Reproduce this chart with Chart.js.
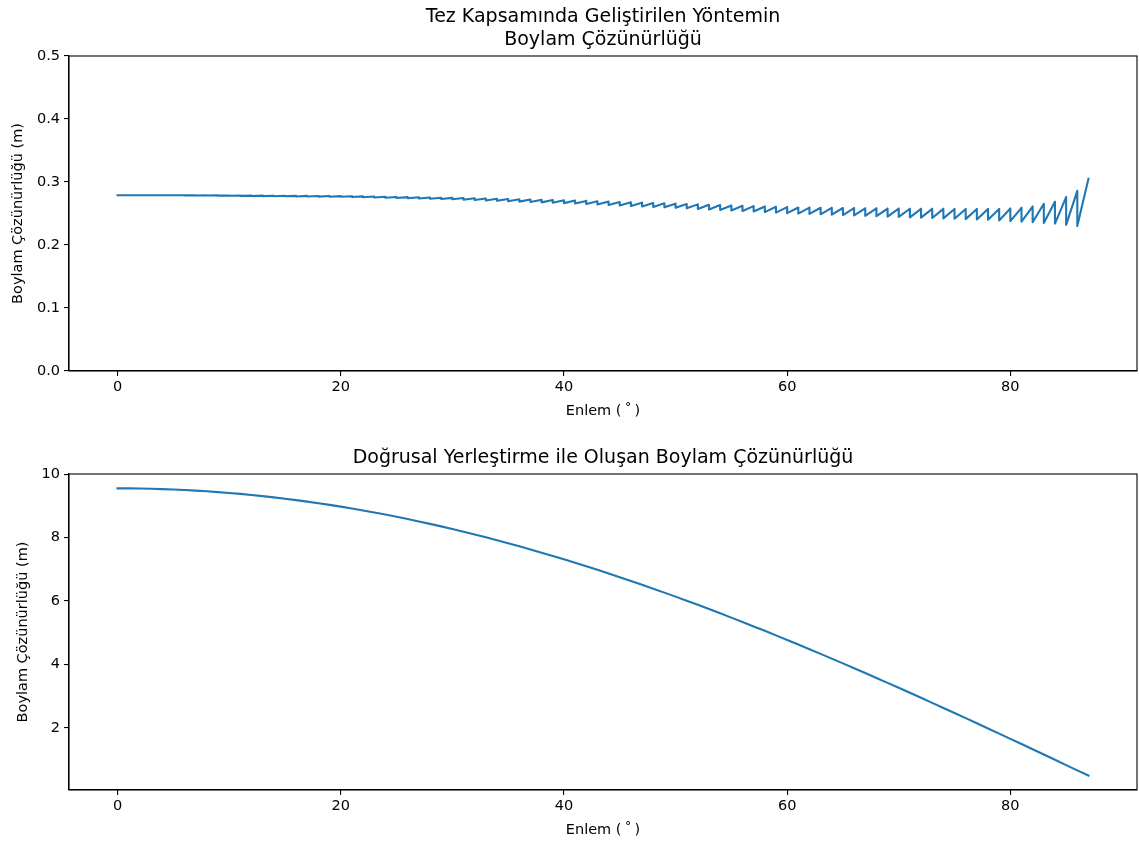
<!DOCTYPE html>
<html>
<head>
<meta charset="utf-8">
<script src="https://cdn.jsdelivr.net/npm/chart.js@4"></script>
<style>
  html, body { margin: 0; padding: 0; background: #fff; }
  #wrap { position: relative; width: 1139px; height: 849px; }
  canvas { position: absolute; left: 0; }
  #top { top: 0; }
  #bottom { top: 424px; }
</style>
</head>
<body>
<div id="wrap">
  <canvas id="top" width="1139" height="424"></canvas>
  <canvas id="bottom" width="1139" height="425"></canvas>
</div>
<script>
// Latitude band starts (degrees); the last entry closes the final band
const bandLat = [0,1,2,3,4,5,6,7,8,9,10,11,12,13,14,15,16,17,18,19,20,21,22,23,24,25,26,27,28,29,
  30,31,32,33,34,35,36,37,38,39,40,41,42,43,44,45,46,47,48,49,50,51,52,53,54,55,56,57,58,59,
  60,61,62,63,64,65,66,67,68,69,70,71,72,73,74,75,76,77,78,79,80,81,82,83,84,85,86,87];

// Proposed method: resolution at the start (low) and end (high) of each 1° band, metres
const bandLow = [
  0.2790,0.2790,0.2790,0.2790,0.2790,0.2790,0.2788,0.2786,0.2785,0.2783,
  0.2781,0.2780,0.2778,0.2776,0.2775,0.2773,0.2771,0.2770,0.2768,0.2766,
  0.2765,0.2761,0.2757,0.2753,0.2749,0.2745,0.2741,0.2737,0.2733,0.2729,
  0.2725,0.2719,0.2713,0.2707,0.2701,0.2695,0.2689,0.2683,0.2677,0.2671,
  0.2665,0.2658,0.2650,0.2643,0.2635,0.2628,0.2620,0.2613,0.2605,0.2598,
  0.2590,0.2582,0.2573,0.2565,0.2556,0.2548,0.2539,0.2531,0.2522,0.2514,
  0.2505,0.2499,0.2493,0.2487,0.2481,0.2475,0.2469,0.2463,0.2457,0.2451,
  0.2445,0.2439,0.2434,0.2428,0.2422,0.2417,0.2411,0.2406,0.2400,0.2390,
  0.2380,0.2370,0.2360,0.2350,0.2340,0.2320,0.2300];
const bandHigh = [
  0.2790,0.2790,0.2790,0.2790,0.2790,0.2790,0.2789,0.2788,0.2787,0.2786,
  0.2785,0.2784,0.2783,0.2782,0.2781,0.2780,0.2779,0.2778,0.2777,0.2776,
  0.2775,0.2772,0.2769,0.2766,0.2763,0.2760,0.2757,0.2754,0.2751,0.2748,
  0.2745,0.2741,0.2737,0.2733,0.2729,0.2725,0.2721,0.2717,0.2713,0.2709,
  0.2705,0.2700,0.2694,0.2689,0.2683,0.2678,0.2672,0.2667,0.2661,0.2656,
  0.2650,0.2645,0.2639,0.2634,0.2628,0.2623,0.2617,0.2612,0.2606,0.2601,
  0.2595,0.2593,0.2591,0.2589,0.2587,0.2585,0.2583,0.2581,0.2579,0.2577,
  0.2575,0.2574,0.2574,0.2573,0.2572,0.2572,0.2571,0.2571,0.2570,0.2580,
  0.2590,0.2610,0.2655,0.2685,0.2760,0.2860,0.3050];

// Linear placement: resolution at each whole degree, metres
const linearLat = bandLat;
const linearRes = [
  9.550,9.549,9.544,9.537,9.527,9.514,9.498,9.479,9.457,9.432,
  9.405,9.375,9.341,9.305,9.266,9.225,9.180,9.133,9.083,9.030,
  8.974,8.916,8.855,8.791,8.724,8.655,8.583,8.509,8.432,8.353,
  8.271,8.186,8.099,8.009,7.917,7.823,7.726,7.627,7.525,7.422,
  7.316,7.207,7.097,6.984,6.870,6.753,6.634,6.513,6.390,6.265,
  6.139,6.010,5.880,5.747,5.613,5.478,5.340,5.201,5.061,4.919,
  4.775,4.630,4.483,4.336,4.186,4.036,3.884,3.731,3.578,3.422,
  3.266,3.109,2.951,2.792,2.632,2.472,2.310,2.148,1.986,1.822,
  1.658,1.494,1.329,1.164,0.998,0.832,0.666,0.500];

const xTicks = [0, 20, 40, 60, 80];
const topYTicks = [0.0, 0.1, 0.2, 0.3, 0.4, 0.5];
const bottomYTicks = [2, 4, 6, 8, 10];

const topTitle = ['Tez Kapsamında Geliştirilen Yöntemin', 'Boylam Çözünürlüğü'];
const bottomTitle = ['Doğrusal Yerleştirme ile Oluşan Boylam Çözünürlüğü'];
const xLabel = 'Enlem (\u2009˚\u2009)';
const yLabel = 'Boylam Çözünürlüğü (m)';

// Sawtooth: each band rises from its low to its high, then drops at the next band
const topPoints = [];
for (let i = 0; i < bandLow.length; i++) {
  topPoints.push({ x: bandLat[i], y: bandLow[i] });
  topPoints.push({ x: bandLat[i + 1], y: bandHigh[i] });
}
const bottomPoints = linearLat.map((x, i) => ({ x, y: linearRes[i] }));

const FONT = "'DejaVu Sans', sans-serif";
Chart.defaults.font.family = FONT;
Chart.defaults.font.size = 14.5;
Chart.defaults.color = '#000';

const LINE = '#1f77b4';

// Full frame around the plot area plus the panel title
const framePlugin = {
  id: 'frame',
  afterDraw(chart, args, opts) {
    const { ctx, chartArea: a } = chart;
    ctx.save();
    ctx.strokeStyle = '#000';
    ctx.lineWidth = 1.1;
    ctx.strokeRect(a.left, a.top, a.right - a.left, a.bottom - a.top);
    ctx.fillStyle = '#000';
    ctx.font = '19px ' + FONT;
    ctx.textAlign = 'center';
    ctx.textBaseline = 'middle';
    const cx = (a.left + a.right) / 2;
    opts.lines.forEach((t, i) => ctx.fillText(t, cx, opts.y + i * opts.gap));
    ctx.restore();
  }
};

function makeChart(id, points, yMin, yMax, yTicks, yFmt, cfg) {
  return new Chart(document.getElementById(id), {
    type: 'line',
    data: {
      datasets: [{
        data: points,
        borderColor: LINE,
        borderWidth: 2.1,
        pointRadius: 0,
        tension: 0,
        fill: false,
        borderJoinStyle: 'round',
        borderCapStyle: 'square'
      }]
    },
    plugins: [framePlugin],
    options: {
      responsive: false,
      animation: false,
      devicePixelRatio: 1,
      layout: { padding: { left: 0, right: 2, top: cfg.padTop, bottom: 0 } },
      plugins: {
        legend: { display: false },
        tooltip: { enabled: false },
        frame: { lines: cfg.title, y: cfg.titleY, gap: 23 }
      },
      scales: {
        x: {
          type: 'linear',
          min: -4.35,
          max: 91.35,
          afterBuildTicks(s) { s.ticks = xTicks.map(v => ({ value: v })); },
          afterFit(s) { s.height = cfg.xHeight; },
          ticks: { padding: 3, maxRotation: 0, callback: v => String(v) },
          grid: { display: true, drawOnChartArea: false, drawTicks: true, tickLength: 5, color: '#000', lineWidth: 1.1 },
          border: { display: true, color: '#000', width: 1.1 },
          title: { display: true, text: xLabel, padding: { top: 0, bottom: cfg.xTitlePad } }
        },
        y: {
          type: 'linear',
          min: yMin,
          max: yMax,
          afterBuildTicks(s) { s.ticks = yTicks.map(v => ({ value: v })); },
          afterFit(s) { s.width = 69; },
          ticks: { padding: 4, callback: yFmt },
          grid: { display: true, drawOnChartArea: false, drawTicks: true, tickLength: 5, color: '#000', lineWidth: 1.1 },
          border: { display: true, color: '#000', width: 1.1 },
          title: { display: true, text: yLabel, padding: { top: cfg.yTitlePad, bottom: 0 } }
        }
      }
    }
  });
}

makeChart('top', topPoints, 0, 0.5, topYTicks, v => v.toFixed(1), {
  padTop: 56, xHeight: 53, xTitlePad: 4.2, yTitlePad: 9.2, title: topTitle, titleY: 17
});
makeChart('bottom', bottomPoints, 0.047, 10.0025, bottomYTicks, v => String(v), {
  padTop: 50, xHeight: 59, xTitlePad: 10.2, yTitlePad: 14.2, title: bottomTitle, titleY: 34
});
</script>
</body>
</html>
